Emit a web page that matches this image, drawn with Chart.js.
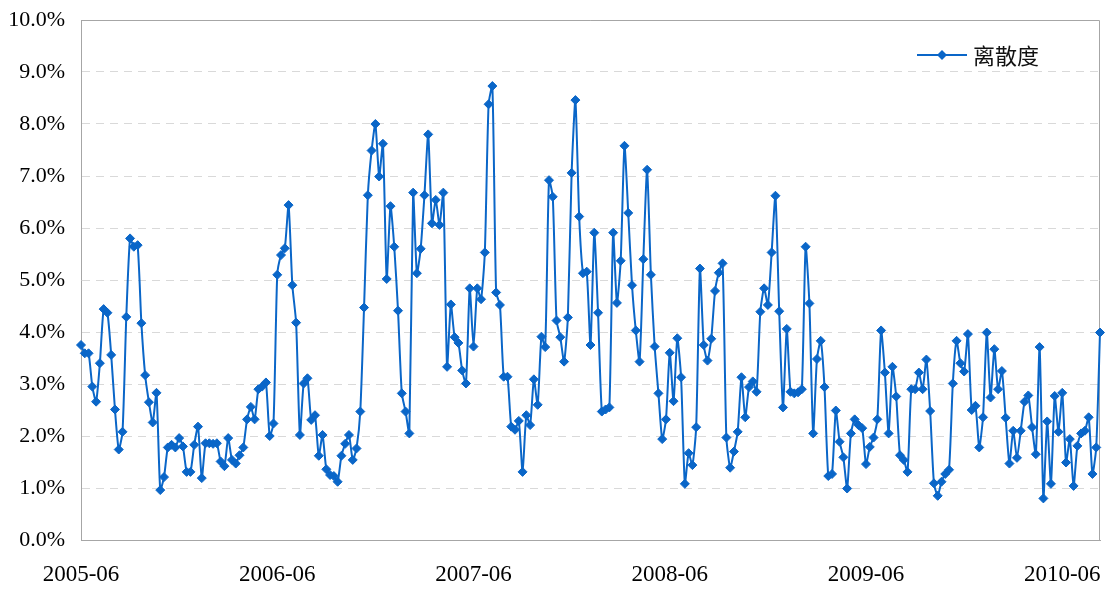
<!DOCTYPE html>
<html>
<head>
<meta charset="utf-8">
<script src="https://cdn.jsdelivr.net/npm/chart.js@4.4.1/dist/chart.umd.min.js"></script>
<style>
    html, body { margin: 0; padding: 0; background: #fff; }
</style>
</head>
<body>
<canvas id="myChart" width="1110" height="597"></canvas>
<script>
var tickLabels = ['2005-06', '2006-06', '2007-06', '2008-06', '2009-06', '2010-06'];
var weeksPerTick = 52;
var seriesName = '离散度';

// weekly values, in %
var dispersion = [
    3.75, 3.59, 3.59, 2.95, 2.66, 3.40, 4.44, 4.37, 3.56, 2.51,
    1.74, 2.08, 4.29, 5.80, 5.64, 5.67, 4.17, 3.17, 2.65, 2.26,
    2.83, 0.96, 1.21, 1.78, 1.83, 1.78, 1.96, 1.80, 1.31, 1.31,
    1.83, 2.18, 1.19, 1.86, 1.86, 1.85, 1.86, 1.51, 1.42, 1.96,
    1.54, 1.47, 1.63, 1.78, 2.32, 2.56, 2.32, 2.90, 2.95, 3.03,
    2.00, 2.24, 5.10, 5.48, 5.61, 6.44, 4.90, 4.18, 2.02, 3.01,
    3.11, 2.31, 2.40, 1.62, 2.02, 1.36, 1.25, 1.23, 1.12, 1.62,
    1.85, 2.02, 1.54, 1.76, 2.47, 4.47, 6.63, 7.49, 8.00, 6.99,
    7.62, 5.02, 6.42, 5.64, 4.41, 2.82, 2.47, 2.05, 6.68, 5.13,
    5.60, 6.63, 7.80, 6.09, 6.54, 6.06, 6.68, 3.33, 4.53, 3.90,
    3.79, 3.26, 3.01, 4.84, 3.72, 4.84, 4.63, 5.53, 8.38, 8.73,
    4.76, 4.52, 3.14, 3.14, 2.18, 2.12, 2.29, 1.31, 2.40, 2.21,
    3.09, 2.60, 3.91, 3.71, 6.92, 6.60, 4.22, 3.90, 3.43, 4.28,
    7.06, 8.46, 6.22, 5.13, 5.16, 3.75, 5.91, 4.37, 2.47, 2.51,
    2.55, 5.91, 4.56, 5.37, 7.58, 6.29, 4.90, 4.03, 3.43, 5.40,
    7.12, 5.10, 3.72, 2.82, 1.94, 2.32, 3.60, 2.67, 3.88, 3.13,
    1.08, 1.67, 1.44, 2.17, 5.22, 3.75, 3.45, 3.87, 4.79, 5.14,
    5.32, 1.97, 1.39, 1.70, 2.08, 3.13, 2.36, 2.94, 3.05, 2.85,
    4.39, 4.84, 4.52, 5.53, 6.62, 4.40, 2.55, 4.06, 2.85, 2.82,
    2.84, 2.90, 5.64, 4.55, 2.05, 3.48, 3.83, 2.94, 1.23, 1.27,
    2.49, 1.89, 1.59, 0.99, 2.05, 2.32, 2.21, 2.15, 1.46, 1.79,
    1.97, 2.32, 4.03, 3.22, 2.05, 3.33, 2.76, 1.63, 1.54, 1.31,
    2.90, 2.90, 3.22, 2.90, 3.47, 2.48, 1.09, 0.85, 1.12, 1.27,
    1.35, 3.01, 3.83, 3.40, 3.24, 3.96, 2.50, 2.58, 1.78, 2.36,
    3.99, 2.74, 3.67, 2.90, 3.25, 2.35, 1.47, 2.10, 1.58, 2.10,
    2.66, 2.78, 2.17, 1.65, 3.71, 0.80, 2.28, 1.08, 2.77, 2.08,
    2.83, 1.49, 1.94, 1.04, 1.81, 2.05, 2.10, 2.36, 1.27, 1.78,
    3.99
];

var weeks = dispersion.map(function (v, i) { return i; });

var blue = '#0A66C8';
var axisGrey = '#a6a6a6';

// top/right frame lines + legend inside the plot
var extras = {
    id: 'extras',
    beforeDatasetsDraw: function (chart) {
        var a = chart.chartArea, c = chart.ctx;
        c.save();
        c.strokeStyle = axisGrey;
        c.lineWidth = 1;
        c.beginPath();
        c.moveTo(a.left, a.top + 0.5);
        c.lineTo(a.right - 0.5, a.top + 0.5);
        c.lineTo(a.right - 0.5, a.bottom);
        c.stroke();
        c.restore();
    },
    afterDraw: function (chart) {
        var a = chart.chartArea, c = chart.ctx;
        var x0 = a.right - 183, y = a.top + 35;
        c.save();
        c.strokeStyle = blue;
        c.lineWidth = 2;
        c.beginPath();
        c.moveTo(x0, y);
        c.lineTo(x0 + 50, y);
        c.stroke();
        c.fillStyle = blue;
        c.beginPath();
        c.moveTo(x0 + 25, y - 5);
        c.lineTo(x0 + 30, y);
        c.lineTo(x0 + 25, y + 5);
        c.lineTo(x0 + 20, y);
        c.closePath();
        c.fill();
        c.fillStyle = '#111';
        c.font = '22px "Noto Sans CJK SC"';
        c.textBaseline = 'middle';
        c.fillText(seriesName, x0 + 56, y + 1);
        c.restore();
    }
};

new Chart('myChart', {
    type: 'line',
    data: {
        labels: weeks,
        datasets: [{
            label: seriesName,
            data: dispersion,
            borderColor: blue,
            backgroundColor: blue,
            borderWidth: 2,
            tension: 0.2,
            pointStyle: 'rectRot',
            pointRadius: 4.5,
            pointBorderWidth: 1,
            pointBackgroundColor: blue,
            pointBorderColor: blue,
            fill: false
        }]
    },
    options: {
        responsive: false,
        animation: false,
        layout: { padding: { left: 0, top: 20, right: 10, bottom: 0 } },
        plugins: {
            legend: { display: false },
            tooltip: { enabled: false }
        },
        scales: {
            x: {
                grid: { display: false, drawTicks: false },
                border: { display: true, color: axisGrey, width: 1 },
                afterFit: function (s) {
                    s.height = 57;
                    s.paddingLeft = 0;
                    s.paddingRight = 0;
                },
                ticks: {
                    autoSkip: false,
                    maxRotation: 0,
                    minRotation: 0,
                    padding: 21,
                    color: '#000',
                    font: { family: '"Liberation Serif"', size: 23 },
                    callback: function (v, i) {
                        return i % weeksPerTick === 0 ? tickLabels[i / weeksPerTick] : '';
                    }
                }
            },
            y: {
                min: 0,
                max: 10,
                grid: { color: '#d9d9d9', lineWidth: 1, drawTicks: false },
                border: { display: true, color: axisGrey, width: 1, dash: [8, 6] },
                afterFit: function (s) {
                    s.width = 81;
                    s.paddingTop = 0;
                    s.paddingBottom = 0;
                },
                ticks: {
                    stepSize: 1,
                    padding: 16,
                    color: '#000',
                    font: { family: '"Liberation Serif"', size: 22 },
                    callback: function (v) { return v.toFixed(1) + '%'; }
                }
            }
        }
    },
    plugins: [extras]
});
</script>
</body>
</html>
